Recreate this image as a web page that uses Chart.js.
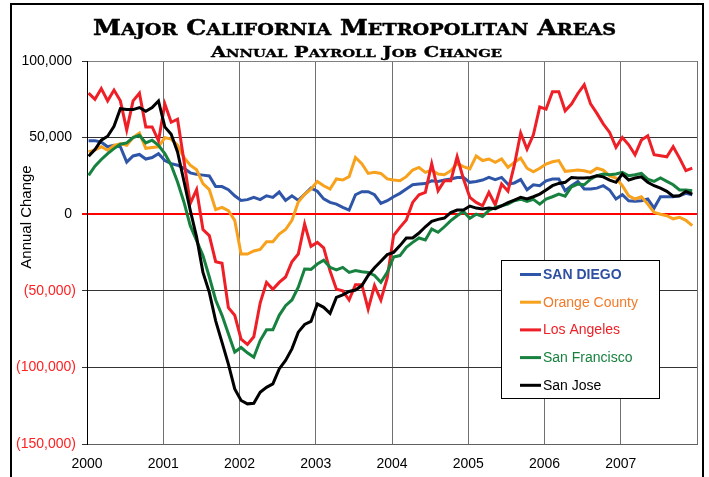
<!DOCTYPE html>
<html><head><meta charset="utf-8">
<script src="https://cdn.jsdelivr.net/npm/chart.js@4"></script>
<style>
html,body{margin:0;padding:0;background:#fff;}
#wrap{position:relative;width:709px;height:477px;overflow:hidden;background:#fff;}
#frame{position:absolute;left:10px;top:3px;width:690px;height:490px;border:2px solid #000;}
.ttl{position:absolute;left:0;top:0;white-space:nowrap;font-family:'DejaVu Serif',serif;font-weight:bold;color:#000;line-height:1;transform-origin:0 0;}
#t1{-webkit-text-stroke:0.6px #000;}
#t2{-webkit-text-stroke:0.4px #000;}
.sc{text-transform:uppercase;font-size:0.76em;}
canvas{position:absolute;left:0;top:0;}
</style></head>
<body><div id="wrap"><div id="frame"></div><canvas id="c" width="709" height="477"></canvas>
<span id="t1" class="ttl" style="font-size:27px;">M<span class="sc">ajor</span> C<span class="sc">alifornia</span> M<span class="sc">etropolitan</span> A<span class="sc">reas</span></span>
<span id="t2" class="ttl" style="font-size:17.5px;">A<span class="sc">nnual</span> P<span class="sc">ayroll</span> J<span class="sc">ob</span> C<span class="sc">hange</span></span>
</div>
<script>
// ---- data (thousands of jobs, monthly Jan 2000 - Dec 2007) ----
const startYear = 2000;
const yearLabels = ['2000','2001','2002','2003','2004','2005','2006','2007'];
const seriesNames = ['SAN DIEGO','Orange County','Los Angeles','San Francisco','San Jose'];
const sanDiego = [48,48,47,44,45,44,34,38,39,36,37,39.5,
 35,33,32,30,27,26,25.5,25,18,18,16,12,
 9,9.5,11,9.5,12,11,14.5,9,12,9,13,17,
 15,10,7.7,6.6,4.5,2.7,12.7,14.7,14.7,12.7,7,8.8,
 11.4,13.6,16.4,19.2,19.7,20,21.8,21.4,22.3,23,24,24,
 20.8,21.4,22.3,24,22.6,24,19.6,20.4,22.6,16,19.2,18.6,
 21.8,23,23,15.3,18.6,21.4,16.4,16.4,17,18.6,15.8,9.9,
 12.7,8.8,8.4,8.8,9.9,4,11.4,11.4,11.4,12,13.6,12.7];
const orangeCounty = [40.6,42,44,41.7,45,46,45,50,53,43,43.5,44,
 50,49,45,37,32,29,20,16,3,4.5,2.3,-4,
 -26,-26,-24,-23,-18,-18,-13,-10,-4,8,13,16.4,
 21.4,18.6,16.4,23,22.3,24.5,37,33,26.6,27.3,26.6,23,
 22.3,21.8,24.5,28.8,30.5,27.3,28.8,26.2,25.8,28.4,33,31,
 29.5,38,35,36,33.8,36,30.5,33.8,36.6,30,27.7,30,
 32.7,34.2,35,28,28.4,28.8,28.4,27.3,30,28.8,25,23.6,
 18.6,12,9.9,11.4,6.6,1.2,0,-1,-3,-2,-4,-7.5];
const losAngeles = [79,75,82,74,81,74,55,74,79,57,57,48,
 72,60,62,35,7,16,-10,-14,-31,-32,-61,-66,
 -81.5,-85,-80,-58,-44.5,-49,-44.5,-41,-31,-26,-6.4,-21,
 -18.4,-22,-37,-49,-50,-56,-46,-46,-62,-46.6,-56,-41.6,
 -14,-8.6,-3.8,7.7,12.7,14.2,33,15.3,21.8,21.8,37.5,23,
 11,7.7,5.5,14.2,6.2,19.7,15,32,53,42.5,51.8,70,
 68.6,80,80,67.5,71.9,78.8,84.5,72,65.8,59,53.4,43.6,
 50.1,45.3,38.8,48.4,51.2,38.8,38.2,37.5,44,36.6,28.4,30.1];
const sanFrancisco = [25.4,31.3,35.7,39.6,42.8,45.7,46.5,50,51.5,46.5,48.3,45,
 39.6,32,21,8,-7.5,-17.3,-27,-41,-56,-66,-78,-90,
 -87,-90.5,-93.4,-82.5,-75.5,-75.5,-66,-59.7,-56,-47.7,-35.8,-36,
 -32.5,-30,-34.7,-36.4,-34.7,-38,-36.8,-37.5,-38,-40,-44.5,-38,
 -28,-27,-21.6,-18.4,-15.5,-16.8,-9.7,-11.8,-8.2,-4.2,-1,1.8,
 -2.7,0,-1.5,2.5,4.5,5.5,6.6,8.8,9.8,8.4,9.7,6.6,
 9.9,11.4,13.1,11.8,17.9,19.7,19.2,22.9,25.1,26.2,25.8,26.2,
 27.3,25.1,25.8,26.6,22.9,21.4,23.6,21.4,19.2,15.8,15.8,15.3];
const sanJose = [37.8,42.2,48.3,50.9,57.4,68.9,68.3,68.3,69.6,67.2,69.6,73.9,
 57,52.2,40.6,21.7,2.6,-15,-38,-51,-69.6,-83.7,-97.8,-114,
 -121.6,-123.8,-123.4,-116.2,-113,-110.8,-101,-95.5,-87.9,-77,-72,-70,
 -58.6,-60.8,-64.7,-54.3,-52.6,-50.4,-49.5,-46.6,-40,-35,-30.7,-26.4,
 -24.9,-20.5,-15.5,-15.5,-12.3,-8.2,-4.7,-3.4,-2.5,1,2.7,2.7,
 5.3,4,3.4,4,3.6,5.5,7.5,9.2,11,9.9,11.4,13.1,
 15.8,18.6,20.1,20.8,24,23.6,23.6,24,25.1,24.4,22.3,20.8,
 26.2,22.3,23.6,24.4,20.8,18.6,17,14.9,11.8,12,14.9,13.1];
const UNIT = 1000;

// ---- styles ----
const lineColors = ['#2F55A8','#F7A11C','#EE1F26','#17823F','#000000'];
const textColors = ['#2E4FA2','#F27A28','#EE1F26','#17823F','#000000'];
const FONT = "'Liberation Sans', Arial, sans-serif";

function fit(id, left, width, top, sy) {
  const el = document.getElementById(id);
  const w = el.getBoundingClientRect().width;
  el.style.left = left + 'px';
  el.style.top = top + 'px';
  el.style.transform = 'scale(' + (width / w) + ',' + sy + ')';
}
fit('t1', 92.7, 523, 16.4, 0.815);
fit('t2', 210.7, 291, 45, 0.83);

const allSeries = [sanDiego, orangeCounty, losAngeles, sanFrancisco, sanJose];
const datasets = allSeries.map((vals, k) => ({
  label: seriesNames[k],
  data: vals.map((v, i) => ({ x: startYear + (i + 0.25) / 12, y: v * UNIT })),
  borderColor: lineColors[k],
  backgroundColor: lineColors[k],
  borderWidth: 3,
  pointRadius: 0,
  tension: 0,
  fill: false
})).reverse();

const extras = {
  id: 'extras',
  afterDraw(chart) {
    const ctx = chart.ctx;
    ctx.save();
    ctx.translate(27, 217);
    ctx.rotate(-Math.PI / 2);
    ctx.font = '15px ' + FONT;
    ctx.fillStyle = '#000';
    ctx.textAlign = 'center';
    ctx.textBaseline = 'middle';
    ctx.fillText('Annual Change', 0, 0);
    ctx.restore();
    ctx.save();
    ctx.fillStyle = '#fff';
    ctx.fillRect(501, 260, 158, 138);
    ctx.strokeStyle = '#000';
    ctx.lineWidth = 1;
    ctx.strokeRect(501.5, 260.5, 158, 138);
    seriesNames.forEach((name, k) => {
      const y = 274.5 + k * 27.7;
      ctx.strokeStyle = lineColors[k];
      ctx.lineWidth = 3;
      ctx.beginPath();
      ctx.moveTo(520, y);
      ctx.lineTo(541, y);
      ctx.stroke();
      ctx.font = (k === 0 ? 'bold ' : '') + '14px ' + FONT;
      ctx.fillStyle = textColors[k];
      ctx.textAlign = 'left';
      ctx.textBaseline = 'middle';
      ctx.fillText(name, 543, y + 0.5);
    });
    ctx.restore();
  }
};

Chart.defaults.font.family = FONT;
new Chart(document.getElementById('c'), {
  type: 'line',
  data: { datasets },
  plugins: [extras],
  options: {
    responsive: false,
    animation: false,
    devicePixelRatio: 1,
    layout: { padding: { left: 0, right: 12, top: 61, bottom: 0 } },
    plugins: { legend: { display: false }, title: { display: false }, tooltip: { enabled: false } },
    scales: {
      x: {
        type: 'linear', min: 2000, max: 2008,
        afterFit: s => { s.height = 33; },
        ticks: {
          stepSize: 1, autoSkip: false, maxRotation: 0, padding: 12,
          color: '#000', font: { size: 14 },
          callback: v => { const i = Math.round(v) - startYear; return yearLabels[i] !== undefined ? yearLabels[i] : ''; }
        },
        grid: { color: '#707070', lineWidth: 1, drawTicks: false },
        border: { color: '#606060', width: 1 }
      },
      y: {
        min: -150000, max: 100000,
        afterFit: s => { s.width = 87; },
        ticks: {
          stepSize: 50000, padding: 6, font: { size: 14 },
          color: c => c.tick.value < 0 ? '#FF2020' : '#000',
          callback: v => v < 0 ? '(' + Math.abs(v).toLocaleString('en-US') + ')' : v.toLocaleString('en-US') + ' '
        },
        grid: {
          color: c => c.tick.value === 0 ? '#FF0000' : (c.tick.value === 100000 ? '#808080' : '#333333'),
          lineWidth: c => c.tick.value === 0 ? 2 : 1,
          tickLength: 5,
          tickColor: c => c.tick.value === 0 ? '#FF0000' : '#333333'
        },
        border: { color: '#000', width: 1 }
      }
    }
  }
});
</script>
</body></html>
